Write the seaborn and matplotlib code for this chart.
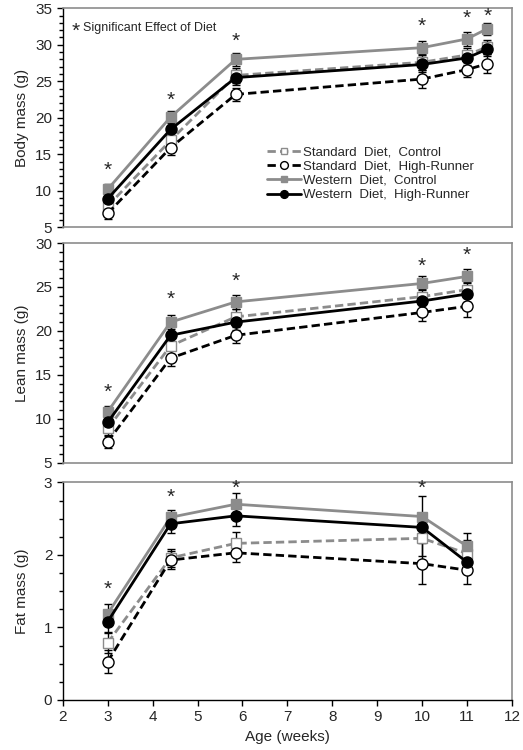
import pandas as pd
import matplotlib
matplotlib.use("Agg")
import matplotlib.pyplot as plt
from matplotlib.ticker import MultipleLocator
import seaborn as sns

# series names (legend order)
groups = ["Standard  Diet,  Control", "Standard  Diet,  High-Runner",
          "Western  Diet,  Control", "Western  Diet,  High-Runner"]

# body mass (g)
age_body = [3, 4.4, 5.85, 10, 11, 11.45]
body_sc = [7.9, 16.9, 25.8, 27.6, 28.6, 29.7]
body_sh = [6.9, 15.9, 23.2, 25.3, 26.6, 27.4]
body_wc = [10.2, 20.1, 28.0, 29.6, 30.8, 32.2]
body_wh = [8.9, 18.4, 25.5, 27.3, 28.2, 29.4]
body_sc_err = [0.8, 1.0, 1.0, 1.0, 1.0, 1.0]
body_sh_err = [0.8, 1.0, 0.9, 1.2, 1.0, 1.3]
body_wc_err = [0.7, 0.8, 0.9, 0.9, 1.0, 0.8]
body_wh_err = [0.8, 1.0, 1.0, 1.0, 1.0, 1.0]
star_body_x = [3, 4.4, 5.85, 10, 11, 11.45]
star_body_y = [13.2, 22.7, 30.8, 32.9, 34.0, 34.3]

# lean mass (g)
age_lean = [3, 4.4, 5.85, 10, 11]
lean_sc = [8.9, 18.3, 21.6, 23.9, 24.7]
lean_sh = [7.4, 16.9, 19.5, 22.1, 22.8]
lean_wc = [10.8, 21.0, 23.3, 25.4, 26.2]
lean_wh = [9.6, 19.5, 21.0, 23.4, 24.2]
lean_sc_err = [0.7, 0.9, 0.9, 0.9, 0.9]
lean_sh_err = [0.7, 0.9, 0.9, 1.0, 1.2]
lean_wc_err = [0.6, 0.8, 0.8, 0.8, 0.8]
lean_wh_err = [0.8, 0.9, 0.9, 0.9, 0.9]
star_lean_x = [3, 4.4, 5.85, 10, 11]
star_lean_y = [13.3, 23.9, 25.9, 27.7, 28.9]

# fat mass (g)
age_fat = [3, 4.4, 5.85, 10, 11]
fat_sc = [0.79, 1.96, 2.16, 2.23, 2.02]
fat_sh = [0.53, 1.93, 2.03, 1.88, 1.79]
fat_wc = [1.19, 2.52, 2.70, 2.53, 2.12]
fat_wh = [1.08, 2.43, 2.54, 2.38, 1.90]
fat_sc_err = [0.14, 0.12, 0.16, 0.25, 0.18]
fat_sh_err = [0.16, 0.12, 0.13, 0.28, 0.19]
fat_wc_err = [0.14, 0.10, 0.16, 0.28, 0.19]
fat_wh_err = [0.14, 0.12, 0.14, 0.20, 0.14]
star_fat_x = [3, 4.4, 5.85, 10]
star_fat_y = [1.56, 2.83, 2.96, 2.96]

sns.set_style("ticks")
plt.rcParams["font.family"] = ["Liberation Sans", "DejaVu Sans"]

styles = {
    groups[0]: dict(color="#8c8c8c", linestyle=(0, (3, 1.5)), marker="s", markersize=6.5,
                    markerfacecolor="white", markeredgecolor="#8c8c8c"),
    groups[1]: dict(color="black", linestyle=(0, (3, 1.5)), marker="o", markersize=8,
                    markerfacecolor="white", markeredgecolor="black"),
    groups[2]: dict(color="#8c8c8c", linestyle="-", marker="s", markersize=6.5,
                    markerfacecolor="#8c8c8c", markeredgecolor="#8c8c8c"),
    groups[3]: dict(color="black", linestyle="-", marker="o", markersize=8,
                    markerfacecolor="black", markeredgecolor="black"),
}

panels = [
    (age_body, [body_sc, body_sh, body_wc, body_wh],
     [body_sc_err, body_sh_err, body_wc_err, body_wh_err],
     star_body_x, star_body_y, "Body mass (g)", (5, 35), 5, 1),
    (age_lean, [lean_sc, lean_sh, lean_wc, lean_wh],
     [lean_sc_err, lean_sh_err, lean_wc_err, lean_wh_err],
     star_lean_x, star_lean_y, "Lean mass (g)", (5, 30), 5, 1),
    (age_fat, [fat_sc, fat_sh, fat_wc, fat_wh],
     [fat_sc_err, fat_sh_err, fat_wc_err, fat_wh_err],
     star_fat_x, star_fat_y, "Fat mass (g)", (0, 3), 1, 0.25),
]

fig = plt.figure(figsize=(5.23, 7.5), dpi=100)
boxes = [[0.120, 0.697, 0.859, 0.292],
         [0.120, 0.383, 0.859, 0.293],
         [0.120, 0.0667, 0.859, 0.290]]

for i, (age, vals, errs, sx, sy, ylab, ylim, major, minor) in enumerate(panels):
    ax = fig.add_axes(boxes[i])
    for g, v, e in zip(groups, vals, errs):
        df = pd.DataFrame({"age": age, "mass": v})
        ax.errorbar(age, v, yerr=e, fmt="none", ecolor="black", elinewidth=1,
                    capsize=3, capthick=1, zorder=2)
        sns.lineplot(data=df, x="age", y="mass", ax=ax, label=g, linewidth=2,
                     markeredgewidth=1, zorder=3, **styles[g])
    for x, y in zip(sx, sy):
        ax.annotate("*", (x, y), xytext=(0, -2), textcoords="offset points",
                    ha="center", va="center", fontsize=15)

    ax.set_xlim(2, 12)
    ax.set_ylim(*ylim)
    ax.yaxis.set_major_locator(MultipleLocator(major))
    ax.yaxis.set_minor_locator(MultipleLocator(minor))
    ax.set_ylabel(ylab, fontsize=11)
    ax.tick_params(axis="y", labelsize=11, length=4, width=1, color="black")
    ax.tick_params(axis="y", which="minor", length=3, width=1, color="black")
    for s in ["top", "right", "bottom"]:
        ax.spines[s].set_color("#8c8c8c")
        ax.spines[s].set_linewidth(1.2)
    ax.spines["left"].set_color("black")
    ax.spines["left"].set_linewidth(1)
    if i == 2:
        ax.spines["bottom"].set_color("black")
        ax.spines["bottom"].set_linewidth(1)
        ax.xaxis.set_major_locator(MultipleLocator(1))
        ax.tick_params(axis="x", labelsize=11, length=4, width=1, color="black")
        ax.set_xlabel("Age (weeks)", fontsize=11)
    else:
        ax.set_xticks([])
        ax.set_xlabel("")
    ax.yaxis.set_label_coords(-0.075, 0.5)

    if i == 0:
        ax.annotate("*", (0.02, 0.909), xycoords="axes fraction", xytext=(0, -2),
                    textcoords="offset points", ha="left", va="center", fontsize=15)
        ax.text(0.045, 0.909, "Significant Effect of Diet", transform=ax.transAxes,
                ha="left", va="center", fontsize=9)
        ax.legend(loc="upper left", bbox_to_anchor=(0.44, 0.40), frameon=False,
                  fontsize=9.5, handlelength=2.6, handletextpad=0.1,
                  labelspacing=0.15, borderpad=0, markerscale=0.7)
    else:
        ax.get_legend().remove()

fig.savefig("out.png", dpi=100)
